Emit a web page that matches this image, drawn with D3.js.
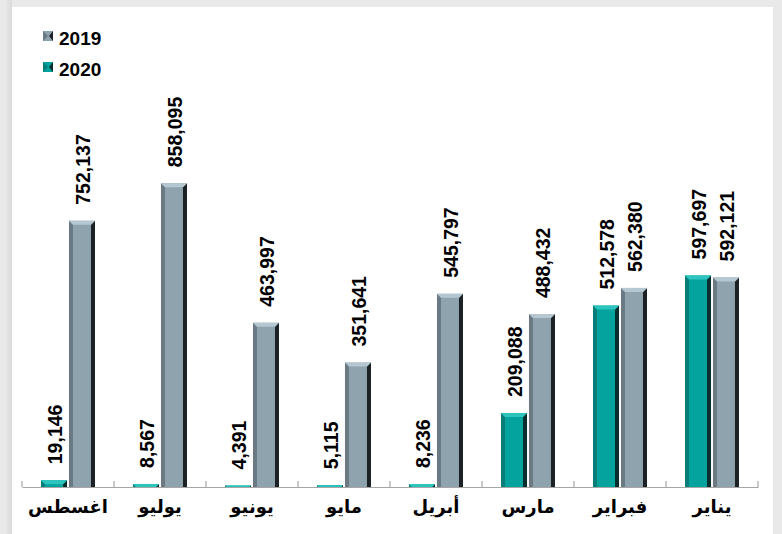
<!DOCTYPE html>
<html><head><meta charset="utf-8">
<script src="https://cdn.jsdelivr.net/npm/d3@7"></script>
<style>
html,body{margin:0;padding:0;background:#e6e6e6;}
svg{display:block;}
</style></head>
<body>
<svg id="chart" width="782" height="534"></svg>
<script>
const months = ["يناير","فبراير","مارس","أبريل","مايو","يونيو","يوليو","اغسطس"];
const seriesNames = ["2020","2019"];
const values2019 = [592121,562380,488432,545797,351641,463997,858095,752137];
const values2020 = [597697,512578,209088,8236,5115,4391,8567,19146];
const yDomain = [0,1000000];

const colors = {
  "2020": {main:"#05a39e", top:"#2cc4bd", left:"#087e79", right:"#0a2d2d"},
  "2019": {main:"#8fa3ae", top:"#b5c7d0", left:"#6a7982", right:"#1b2124"}
};

const svg = d3.select("#chart");
const defs = svg.append("defs");
const gl = defs.append("linearGradient").attr("id","shL").attr("x1","0").attr("x2","1");
gl.append("stop").attr("offset","0").attr("stop-color","#ececec");
gl.append("stop").attr("offset","1").attr("stop-color","#d9d9d9");
svg.append("rect").attr("x",0).attr("y",0).attr("width",782).attr("height",534).attr("fill","#e9e9e9");
svg.append("rect").attr("x",4).attr("y",0).attr("width",8).attr("height",534).attr("fill","url(#shL)");
svg.append("rect").attr("x",12).attr("y",7).attr("width",761).attr("height",527).attr("fill","#ffffff");

const data = months.map((m,i)=>({month:m, "2019":values2019[i], "2020":values2020[i]}));

const x0 = d3.scaleBand().domain(months.slice().reverse()).range([22,758]).paddingInner(0).paddingOuter(0);
const x1 = d3.scaleBand().domain(seriesNames).range([0,x0.bandwidth()]).paddingInner(0.07).paddingOuter(0.68);
const y = d3.scaleLinear().domain(yDomain).range([487,133]);

const axis = d3.axisBottom(x0).tickSizeOuter(0).tickSize(0).tickFormat(d=>d);
const gAxis = svg.append("g").attr("transform",`translate(0,${y(0)})`).call(axis);
gAxis.select(".domain").attr("stroke","#a6a6a6").attr("stroke-width",1.2);
gAxis.selectAll(".tick text").remove();
const bounds = months.slice().reverse().map(m=>x0(m)).concat([x0.range()[1]]);
svg.append("g").selectAll("line").data(bounds).join("line")
  .attr("x1",d=>d).attr("x2",d=>d).attr("y1",y(0)-6).attr("y2",y(0))
  .attr("stroke","#a6a6a6").attr("stroke-width",1.2);

svg.append("g").selectAll("text").data(months).join("text")
  .attr("x",d=>x0(d)+x0.bandwidth()/2).attr("y",y(0)+26)
  .attr("text-anchor","middle")
  .attr("font-family","'DejaVu Sans', sans-serif").attr("font-weight","bold")
  .attr("font-size","18px").attr("fill","#000")
  .text(d=>d);

function bevelBar(g, xa, xb, yt, yb, c){
  const h = yb-yt;
  g.append("rect").attr("x",xa).attr("y",yt).attr("width",xb-xa).attr("height",h).attr("fill",c.main);
  const b = Math.min(4, h);
  if (h < 0.5) return;
  g.append("polygon").attr("points",[[xa,yt],[xa+b,yt+b],[xa+b,yb],[xa,yb]].join(" ")).attr("fill",c.left);
  g.append("polygon").attr("points",[[xb,yt],[xb-b,yt+b],[xb-b,yb],[xb,yb]].join(" ")).attr("fill",c.right);
  g.append("polygon").attr("points",[[xa,yt],[xb,yt],[xb-b,yt+b],[xa+b,yt+b]].join(" ")).attr("fill",c.top);
}

const gBars = svg.append("g");
data.forEach(d=>{
  seriesNames.forEach(s=>{
    const xa = x0(d.month)+x1(s);
    const xb = xa + x1.bandwidth();
    const yt = y(d[s]), yb = y(0);
    bevelBar(gBars, xa, xb, yt, yb, colors[s]);
    const cx = (xa+xb)/2 + 1;
    gBars.append("text")
      .attr("transform",`translate(${cx},${yt-16}) rotate(-90)`)
      .attr("dy","0.36em")
      .attr("font-family","'Liberation Sans', Arial, sans-serif").attr("font-weight","bold")
      .attr("font-size","19.5px").attr("fill","#000")
      .text(d3.format(",")(d[s]));
  });
});

const legendItems = ["2019","2020"];
const lg = svg.append("g");
legendItems.forEach((s,i)=>{
  const yy = 31 + i*31;
  const c = colors[s];
  lg.append("rect").attr("x",43).attr("y",yy).attr("width",10).attr("height",10).attr("fill",c.main);
  lg.append("polygon").attr("points",[[43,yy],[48,yy+5],[43,yy+10]].join(" ")).attr("fill",c.left);
  lg.append("polygon").attr("points",[[53,yy],[49,yy+5],[53,yy+10]].join(" ")).attr("fill",c.right);
  lg.append("text").attr("x",59).attr("y",yy+14)
    .attr("font-family","'Liberation Sans', Arial, sans-serif").attr("font-weight","bold")
    .attr("font-size","19px").attr("fill","#000").text(s);
});
</script>
</body></html>
